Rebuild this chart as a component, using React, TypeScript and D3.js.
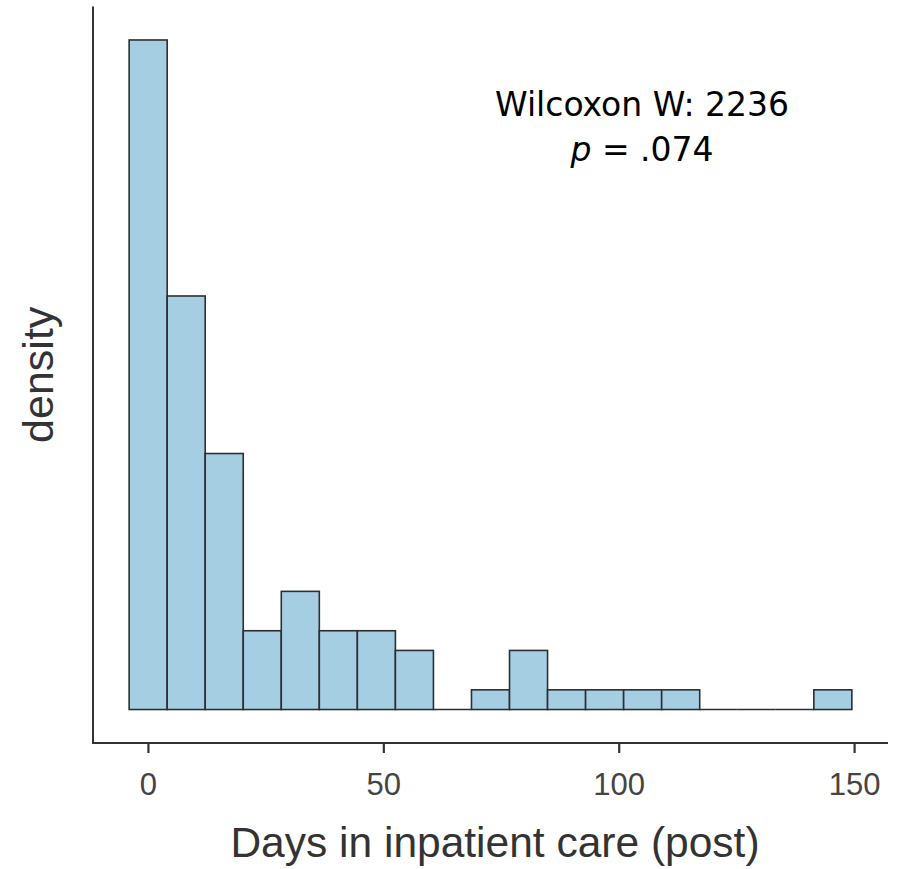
import React from "react";
import * as d3 from "d3";

// histogram of days in inpatient care (post), 19 bins
const binStart = -4.1;
const binWidth = 8.08;
const binCounts = [34, 21, 13, 4, 6, 4, 4, 3, 0, 1, 3, 1, 1, 1, 1, 0, 0, 0, 1];
const xTicks = [0, 50, 100, 150];
const statLines = ["Wilcoxon W: 2236", ".074"];

const width = 900;
const height = 869;
const panel = { left: 93, right: 888, top: 6.5, bottom: 743 };

export default function App() {
  const total = d3.sum(binCounts);
  const bins = binCounts.map((c, i) => ({
    x0: binStart + i * binWidth,
    x1: binStart + (i + 1) * binWidth,
    density: c / (total * binWidth),
  }));

  const xMin = bins[0].x0;
  const xMax = bins[bins.length - 1].x1;
  const xPad = (xMax - xMin) * 0.05;
  const x = d3
    .scaleLinear()
    .domain([xMin - xPad, xMax + xPad])
    .range([panel.left, panel.right]);

  const yMax = d3.max(bins, (b) => b.density)!;
  const yPad = yMax * 0.05;
  const y = d3
    .scaleLinear()
    .domain([-yPad, yMax + yPad])
    .range([panel.bottom, panel.top]);

  const axisColor = "#333333";
  const barStroke = "#2b2f33";
  const labelFont = "'Liberation Sans', Arial, sans-serif";
  const statFont = "'DejaVu Sans', sans-serif";

  return (
    <svg
      width={width}
      height={height}
      style={{ position: "absolute", left: 0, top: 0, background: "#fff" }}
    >
      {/* bars (empty bins still show their outline as a flat line) */}
      {bins.map((b, i) =>
        b.density > 0 ? (
          <rect
            key={i}
            x={x(b.x0)}
            y={y(b.density)}
            width={x(b.x1) - x(b.x0)}
            height={y(0) - y(b.density)}
            fill="#a6cee3"
            stroke={barStroke}
            strokeWidth={1.6}
          />
        ) : (
          <line
            key={i}
            x1={x(b.x0)}
            x2={x(b.x1)}
            y1={y(0)}
            y2={y(0)}
            stroke={barStroke}
            strokeWidth={1.6}
          />
        )
      )}

      {/* axes */}
      <line
        x1={panel.left}
        x2={panel.left}
        y1={panel.top}
        y2={panel.bottom}
        stroke={axisColor}
        strokeWidth={2}
      />
      <line
        x1={panel.left - 1}
        x2={panel.right}
        y1={panel.bottom}
        y2={panel.bottom}
        stroke={axisColor}
        strokeWidth={2}
      />
      {xTicks.map((t) => (
        <g key={t} transform={`translate(${x(t)},${panel.bottom})`}>
          <line y1={0} y2={10} stroke={axisColor} strokeWidth={2.2} />
          <text
            y={52}
            textAnchor="middle"
            fontFamily={labelFont}
            fontSize={31}
            fill="#444444"
          >
            {t}
          </text>
        </g>
      ))}

      {/* axis titles */}
      <text
        x={495}
        y={857}
        textAnchor="middle"
        fontFamily={labelFont}
        fontSize={42.5}
        fill="#333333"
      >
        Days in inpatient care (post)
      </text>
      <text
        transform={`translate(53,${(panel.top + panel.bottom) / 2}) rotate(-90)`}
        textAnchor="middle"
        fontFamily={labelFont}
        fontSize={43}
        fill="#333333"
      >
        density
      </text>

      {/* test statistic */}
      <text
        x={642}
        y={116}
        textAnchor="middle"
        fontFamily={statFont}
        fontSize={33}
        fill="#000"
      >
        {statLines[0]}
      </text>
      <text
        x={642}
        y={161}
        textAnchor="middle"
        fontFamily={statFont}
        fontSize={33}
        fill="#000"
      >
        <tspan fontStyle="italic">p</tspan>
        {" = " + statLines[1]}
      </text>
    </svg>
  );
}
